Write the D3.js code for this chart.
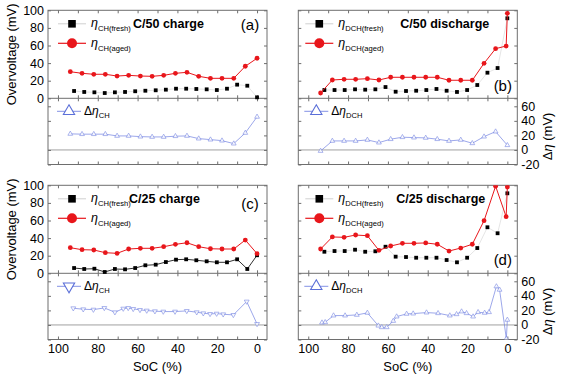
<!DOCTYPE html>
<html>
<head>
<meta charset="utf-8">
<script src="https://cdn.jsdelivr.net/npm/d3@7"></script>
<style>
body { margin: 0; background: #fff; }
text { font-family: "Liberation Sans", Arial, sans-serif; fill: #000; }
</style>
</head>
<body>
<script>
// SoC grids (%)
var socAged = [93.8, 87.9, 82.0, 76.2, 70.3, 64.5, 58.6, 52.7, 46.9, 41.0, 35.2, 29.3, 23.4, 17.6, 11.7, 5.9, 0];
var socAgedDch = [93.8, 87.9, 82.0, 76.2, 70.3, 64.5, 58.6, 52.7, 46.9, 41.0, 35.2, 29.3, 23.4, 17.6, 11.7, 5.9, 0.6, 0];
var socFresh = [91.9, 86.8, 81.7, 76.5, 71.4, 66.3, 61.2, 56.1, 50.9, 45.8, 40.7, 35.6, 30.5, 25.3, 20.2, 15.1, 10.0, 4.9, 0];

// (a) C/50 charge
var ch50Fresh = [8.3, 7.2, 6.8, 6.0, 6.8, 7.2, 8.0, 8.6, 9.1, 9.8, 10.9, 10.9, 10.6, 10.2, 9.4, 10.9, 15.5, 14.3, 1.1];
var ch50Aged = [30.2, 28.4, 27.3, 27.3, 25.3, 26.1, 25.3, 25.0, 26.1, 28.4, 29.5, 25.0, 22.7, 22.7, 22.7, 36.4, 45.5];
var ch50Delta = [22.1, 21.7, 21.7, 21.7, 19.3, 19.3, 18.3, 17.9, 17.9, 18.9, 19.3, 15.6, 14.2, 12.8, 8.7, 23.4, 45.5];

// (b) C/50 discharge
var dch50Fresh = [9.4, 9.4, 9.4, 10.2, 9.8, 10.2, 12.8, 7.5, 8.3, 8.6, 9.4, 10.6, 8.6, 7.2, 9.4, 15.1, 29.1, 34.4, 90.9];
var dch50Aged = [6.0, 20.8, 21.6, 21.6, 22.3, 20.8, 23.9, 23.9, 23.9, 23.9, 23.9, 20.5, 20.5, 20.5, 39.8, 56.4, 59.4, 96.6];
var dch50Delta = [-1.4, 12.4, 12.4, 12.4, 13.8, 10.1, 14.8, 17.5, 17.0, 16.6, 14.8, 12.4, 13.8, 9.2, 18.3, 25.2, 6.5];

// (c) C/25 charge
var ch25Fresh = [6.0, 4.9, 5.2, 1.5, 4.9, 4.5, 6.0, 9.1, 9.8, 12.8, 15.5, 15.9, 14.8, 13.6, 12.5, 12.5, 15.9, 4.9, 20.5];
var ch25Aged = [29.1, 26.8, 26.5, 23.4, 22.7, 27.6, 28.4, 28.4, 30.2, 32.9, 34.7, 30.2, 27.9, 27.6, 27.6, 37.8, 22.3];
var ch25DeltaSoc = [92.3, 87.3, 82.2, 76.7, 71.4, 67.2, 64.7, 62.2, 58.8, 55.4, 51.3, 47.1, 41.2, 35.3, 30.3, 27.0, 23.6, 20.3, 17.0, 11.9, 5.2, 0];
var ch25Delta = [23.0, 21.6, 21.1, 23.4, 17.5, 22.5, 23.4, 22.1, 20.7, 19.8, 18.9, 18.4, 18.4, 19.3, 17.5, 16.1, 15.2, 15.6, 14.7, 13.8, 32.2, 1.4];

// (d) C/25 discharge
var dch25Fresh = [24.5, 25.3, 25.3, 26.8, 24.5, 25.0, 30.2, 18.9, 18.5, 17.7, 17.7, 17.7, 15.1, 12.5, 17.7, 28.7, 52.3, 45.5, 90.9];
var dch25Aged = [27.6, 41.3, 40.9, 43.5, 42.7, 26.1, 31.0, 34.1, 34.1, 34.5, 33.0, 25.3, 28.7, 33.0, 59.8, 99, 64.3, 98];
var dch25DeltaSoc = [93.1, 91.5, 87.3, 81.5, 75.6, 70.3, 64.8, 63.1, 60.6, 57.3, 55.6, 50.6, 47.3, 40.6, 34.8, 28.9, 25.5, 23.0, 20.5, 17.2, 14.7, 11.4, 9.2, 5.5, 3.9, 0.5, 0];
var dch25Delta = [3.2, 3.7, 12.9, 12.9, 13.8, 16.6, -1, -3.2, -3.2, 5.5, 11.5, 15.2, 15.6, 17.0, 16.1, 12.9, 14.7, 18.4, 16.1, 11.5, 17.5, 16.6, 17.5, 52.9, 48.3, -19, 7];

var socTicks = [100, 80, 60, 40, 20, 0];
var ovTicks = [0, 20, 40, 60, 80, 100];
var dTicks = [-20, 0, 20, 40, 60];

var red = "#e8161b", blue = "#7585e2", frameCol = "#6e6e6e";

var svg = d3.select("body").append("svg")
    .attr("width", 564)
    .attr("height", 378);

var W = 219, Htop = 88, Hall = 154.2;

function zip(a, b) { return a.map(function(v, i) { return [v, b[i]]; }); }

function drawPanel(p)
{
	var g = svg.append("g").attr("transform", "translate(" + p.x + "," + p.y + ")");
	var x = d3.scaleLinear().domain([105, -5]).range([0, W]);
	var y = d3.scaleLinear().domain([0, 100]).range([Htop, 0]);
	var yd = d3.scaleLinear().domain([-20, 71]).range([Hall, Htop]);

	g.append("clipPath").attr("id", "clip" + p.id)
		.append("rect").attr("width", W).attr("height", Hall);

	// zero line of delta plot
	g.append("line")
		.attr("x1", 0).attr("x2", W)
		.attr("y1", yd(0)).attr("y2", yd(0))
		.style("stroke", "#a0a0a0").style("stroke-width", 1);

	// axes
	var minor = d3.range(100, -1, -10);
	function styleAxis(sel) {
		sel.select(".domain").remove();
		sel.selectAll("line").style("stroke", frameCol);
		sel.selectAll("text").style("font-size", "12.5px").style("font-family", "'Liberation Sans', Arial, sans-serif");
	}
	g.append("g").call(d3.axisTop(x).tickValues(minor).tickSize(-3).tickFormat("")).call(styleAxis);
	g.append("g").attr("transform", "translate(0," + Htop + ")")
		.call(d3.axisBottom(x).tickValues(minor).tickSize(-3).tickFormat("")).call(styleAxis);
	g.append("g").attr("transform", "translate(0," + Htop + ")")
		.call(d3.axisTop(x).tickValues(minor).tickSize(-3).tickFormat("")).call(styleAxis);
	g.append("g").attr("transform", "translate(0," + Hall + ")")
		.call(d3.axisBottom(x).tickValues(minor).tickSize(-3).tickPadding(5)
			.tickFormat(function(d) { return p.xlabels && socTicks.indexOf(d) >= 0 ? d : ""; }))
		.call(styleAxis);

	g.append("g").call(d3.axisLeft(y).tickValues(ovTicks).tickSize(-3).tickPadding(4)
			.tickFormat(function(d) { return p.left ? d : ""; })).call(styleAxis);
	g.append("g").attr("transform", "translate(" + W + ",0)")
		.call(d3.axisRight(y).tickValues(ovTicks).tickSize(-3).tickFormat("")).call(styleAxis);
	g.append("g").call(d3.axisLeft(yd).tickValues(dTicks).tickSize(-3).tickFormat("")).call(styleAxis);
	g.append("g").attr("transform", "translate(" + W + ",0)")
		.call(d3.axisRight(yd).tickValues(dTicks).tickSize(-3).tickPadding(4)
			.tickFormat(function(d) { return p.left ? "" : d; })).call(styleAxis);

	// frame
	g.append("rect").attr("width", W).attr("height", Hall)
		.style("fill", "none").style("stroke", frameCol).style("stroke-width", 1);
	g.append("line").attr("x1", 0).attr("x2", W).attr("y1", Htop).attr("y2", Htop)
		.style("stroke", frameCol).style("stroke-width", 1);

	var plot = g.append("g").attr("clip-path", "url(#clip" + p.id + ")");

	// delta
	var dd = zip(p.dSoc, p.delta);
	var ld = d3.line().x(function(d) { return x(d[0]); }).y(function(d) { return yd(d[1]); });
	plot.append("path").attr("d", ld(dd))
		.style("fill", "none").style("stroke", blue).style("stroke-width", 0.9).style("opacity", 0.8);
	var tri = d3.symbol().type(d3.symbolTriangle).size(10);
	plot.selectAll(".tri").data(dd).enter().append("path")
		.attr("d", tri)
		.attr("transform", function(d) { return "translate(" + x(d[0]) + "," + yd(d[1]) + ")" + (p.down ? " rotate(180)" : ""); })
		.style("fill", "#fff").style("stroke", blue).style("stroke-width", 0.7).style("opacity", 0.85);

	// fresh
	var ly = d3.line().x(function(d) { return x(d[0]); }).y(function(d) { return y(d[1]); });
	var fd = zip(socFresh, p.fresh);
	plot.append("path").attr("d", ly(fd))
		.style("fill", "none").style("stroke", p.freshLine).style("stroke-width", 0.9);
	plot.selectAll(".sq").data(fd).enter().append("rect")
		.attr("x", function(d) { return x(d[0]) - 1.9; })
		.attr("y", function(d) { return y(d[1]) - 1.9; })
		.attr("width", 3.8).attr("height", 3.8)
		.style("fill", "#000");

	// aged
	var ad = zip(p.agedSoc, p.aged);
	plot.append("path").attr("d", ly(ad))
		.style("fill", "none").style("stroke", red).style("stroke-width", 1);
	plot.selectAll(".ci").data(ad).enter().append("circle")
		.attr("cx", function(d) { return x(d[0]); })
		.attr("cy", function(d) { return y(d[1]); })
		.attr("r", 2.4)
		.style("fill", red);

	// legends (coordinates relative to panel)
	var lx = p.legX;
	g.append("line").attr("x1", lx - 14).attr("x2", lx + 14).attr("y1", 13.5).attr("y2", 13.5)
		.style("stroke", "#d0d0d0").style("stroke-width", 1);
	g.append("rect").attr("x", lx - 3.8).attr("y", 13.5 - 3.8).attr("width", 7.6).attr("height", 7.6).style("fill", "#000");
	g.append("line").attr("x1", lx - 14).attr("x2", lx + 14).attr("y1", 33).attr("y2", 33)
		.style("stroke", red).style("stroke-width", 1.2);
	g.append("circle").attr("cx", lx).attr("cy", 33).attr("r", 5).style("fill", red);

	function etaLabel(tx, ty, sub) {
		var t = g.append("text").attr("x", tx).attr("y", ty).style("font-size", "12.5px");
		t.append("tspan").text("η").style("font-style", "italic");
		t.append("tspan").text(sub).attr("dy", 4).style("font-size", "7.6px");
	}
	etaLabel(lx + 19, 17, p.sub + "(fresh)");
	etaLabel(lx + 19, 37, p.sub + "(aged)");

	g.append("text").attr("x", p.titleX).attr("y", 18)
		.style("font-size", "12.5px").style("font-weight", "bold").text(p.title);
	g.append("text").attr("x", p.tagX).attr("y", p.tagY).attr("text-anchor", "middle")
		.style("font-size", "15px").text(p.tag);

	// delta legend
	var dy0 = Htop + 13;
	g.append("line").attr("x1", lx - 15).attr("x2", lx + 9).attr("y1", dy0).attr("y2", dy0)
		.style("stroke", blue).style("stroke-width", 0.9);
	g.append("path").attr("d", d3.symbol().type(d3.symbolTriangle).size(55))
		.attr("transform", "translate(" + (lx - 3) + "," + dy0 + ")" + (p.down ? " rotate(180)" : ""))
		.style("fill", "#fff").style("stroke", "#5b6fd8").style("stroke-width", 1.1);
	var dt = g.append("text").attr("x", lx + 12).attr("y", dy0 + 4).style("font-size", "12px");
	dt.append("tspan").text("Δ");
	dt.append("tspan").text("η").style("font-style", "italic");
	dt.append("tspan").text(p.sub).attr("dy", 3).style("font-size", "7.6px");

	if (p.xlabels) {
		g.append("text").attr("x", W / 2).attr("y", Hall + 32).attr("text-anchor", "middle")
			.style("font-size", "13px").text("SoC (%)");
	}
	if (p.left) {
		g.append("text").attr("transform", "translate(-32," + (Htop / 2) + ") rotate(-90)")
			.attr("text-anchor", "middle").style("font-size", "13px").text("Overvoltage (mV)");
	} else {
		var rt = g.append("text").attr("transform", "translate(" + (W + 35) + "," + ((Htop + Hall) / 2 + 5) + ") rotate(-90)")
			.attr("text-anchor", "middle").style("font-size", "13px");
		rt.append("tspan").text("Δ");
		rt.append("tspan").text("η").style("font-style", "italic");
		rt.append("tspan").text(" (mV)");
	}
}

drawPanel({ id: "a", x: 48, y: 10.3, left: true, xlabels: false, title: "C/50 charge", titleX: 85, tag: "(a)", tagX: 202, tagY: 20,
	sub: "CH", legX: 24, fresh: ch50Fresh, aged: ch50Aged, agedSoc: socAged, dSoc: socAged, delta: ch50Delta, freshLine: "#e2e2e2", down: false });
drawPanel({ id: "b", x: 298.3, y: 10.3, left: false, xlabels: false, title: "C/50 discharge", titleX: 102, tag: "(b)", tagX: 204.5, tagY: 81,
	sub: "DCH", legX: 21, fresh: dch50Fresh, aged: dch50Aged, agedSoc: socAgedDch, dSoc: socAged, delta: dch50Delta, freshLine: "#e2e2e2", down: false });
drawPanel({ id: "c", x: 48, y: 185.3, left: true, xlabels: true, title: "C/25 charge", titleX: 81, tag: "(c)", tagX: 202, tagY: 24,
	sub: "CH", legX: 24, fresh: ch25Fresh, aged: ch25Aged, agedSoc: socAged, dSoc: ch25DeltaSoc, delta: ch25Delta, freshLine: "#1a1a1a", down: true });
drawPanel({ id: "d", x: 298.3, y: 185.3, left: false, xlabels: true, title: "C/25 discharge", titleX: 98, tag: "(d)", tagX: 204.5, tagY: 80,
	sub: "DCH", legX: 21, fresh: dch25Fresh, aged: dch25Aged, agedSoc: socAgedDch, dSoc: dch25DeltaSoc, delta: dch25Delta, freshLine: "#e2e2e2", down: false });
</script>
</body>
</html>
